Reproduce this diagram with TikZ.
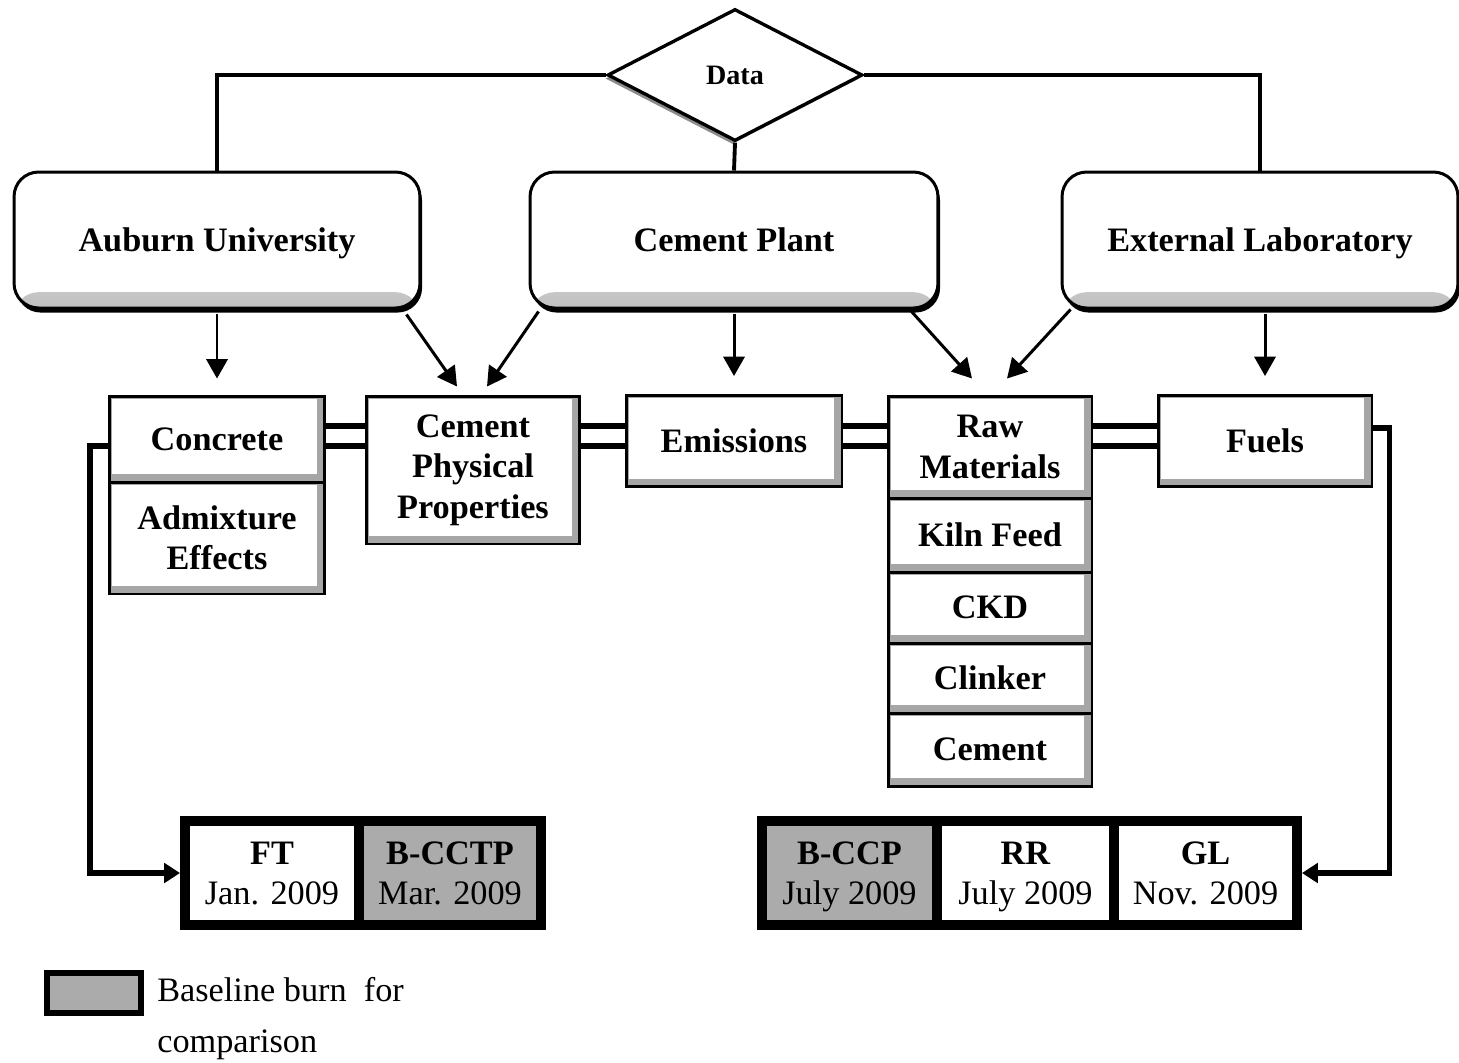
\documentclass[tikz,border=0pt]{standalone}
\usepackage{fontspec}
\setmainfont{Liberation Serif}
\usetikzlibrary{arrows.meta,positioning,shapes.geometric,calc,shadows}

\begin{document}
\begin{tikzpicture}[x=0.02cm, y=-0.02cm,
  srcbox/.style={rectangle, rounded corners=14pt, draw=black, line width=1.7pt,
               fill=white, minimum height=2.72cm, inner sep=0pt,
               font=\fontsize{19.5}{23}\selectfont\bfseries,
               text height=13pt, text depth=0pt,
               drop shadow={shadow xshift=1.2pt, shadow yshift=-2.6pt, fill=black, opacity=1},
               path picture={\shade[top color=white, bottom color=black!25]
                 ([yshift=9pt]path picture bounding box.south west) rectangle
                 (path picture bounding box.south east);}},
  catbox/.style={rectangle, draw=black, line width=1.7pt, fill=black!35,
               minimum width=4.3cm, inner sep=0pt, align=center,
               font=\fontsize{19.5}{23}\selectfont\bfseries,
               path picture={\fill[white]
                 ([shift={(1.6pt,-1.6pt)}]path picture bounding box.north west) rectangle
                 ([shift={(-4.5pt,4.5pt)}]path picture bounding box.south east);}},
  cellbox/.style={rectangle, draw=black, line width=0.2cm, fill=white,
               minimum height=2.08cm, inner sep=0pt, align=center,
               font=\fontsize{19.5}{23}\selectfont, text depth=0pt},
  basebox/.style={cellbox, fill=black!33},
  link/.style={line width=2.2pt},
  arr/.style={-{Triangle[length=11pt,width=12pt]}, line width=1.7pt},
  rail/.style={line width=3.2pt, double=white, double distance=8.5pt},
  back/.style={-{Triangle[length=9pt,width=11pt]}, line width=3.2pt}
]
\useasboundingbox (0,0) rectangle (1459,1062);

% Data source
\node[diamond, draw=black, line width=1.9pt, fill=white, minimum width=5.1cm,
      minimum height=2.64cm, inner sep=0pt, font=\fontsize{16}{18}\selectfont\bfseries,
      drop shadow={shadow xshift=-1.5pt, shadow yshift=-2pt, fill=black!45, opacity=1}]
      (data) at (735,75) {Data};

% Sources
\node[srcbox, minimum width=8.12cm] (aub) at (217,240) {Auburn University};
\node[srcbox, minimum width=8.16cm] (cpl) at (734,240) {Cement Plant};
\node[srcbox, minimum width=7.92cm] (ext) at (1260,240) {External Laboratory};

\draw[link] (data.west) -| (aub.north);
\draw[link] (data.east) -| (ext.north);
\draw[link] (data.south) -- (cpl.north);

% Categories
\node[catbox, minimum height=1.72cm] (conc) at (217,439) {Concrete};
\node[catbox, minimum height=2.24cm] (adm)  at (217,538) {Admixture\\Effects};
\node[catbox, minimum width=4.26cm, minimum height=2.96cm] (cpp) at (473,470) {Cement\\Physical\\Properties};
\node[catbox, minimum width=4.32cm, minimum height=1.82cm] (emi) at (734,441) {Emissions};
\node[catbox, minimum width=4.08cm, minimum height=2.04cm] (raw) at (990,447) {Raw\\Materials};
\node[catbox, minimum width=4.08cm, minimum height=1.48cm] (kiln) at (990,535) {Kiln Feed};
\node[catbox, minimum width=4.08cm, minimum height=1.42cm] (ckd)  at (990,607.5) {CKD};
\node[catbox, minimum width=4.08cm, minimum height=1.40cm] (clk)  at (990,678) {Clinker};
\node[catbox, minimum width=4.08cm, minimum height=1.46cm] (cmt)  at (990,749.5) {Cement};
\node[catbox, minimum width=4.28cm, minimum height=1.82cm] (fuel) at (1265,441) {Fuels};

% Rails between categories
\coordinate (railref) at (0,436);
\draw[rail] (conc.east |- railref) -- (cpp.west |- railref);
\draw[rail] (cpp.east |- railref) -- (emi.west |- railref);
\draw[rail] (emi.east |- railref) -- (raw.west |- railref);
\draw[rail] (raw.east |- railref) -- (fuel.west |- railref);

% Arrows from sources
\draw[arr] ($(aub.south)+(0,5)$) -- ($(conc.north)+(0,-16)$);
\draw[arr] ($(aub.south east)+(-15,5)$) -- ($(cpp.north)+(-16,-8)$);
\draw[arr] ($(cpl.south west)+(10,2)$) -- ($(cpp.north)+(14,-8)$);
\draw[arr] ($(cpl.south)+(0,5)$) -- ($(emi.north)+(0,-18)$);
\draw[arr] ($(cpl.south east)+(-28,2)$) -- ($(raw.north)+(-18,-16)$);
\draw[arr] ($(ext.south west)+(10,0)$) -- ($(raw.north)+(17,-16)$);
\draw[arr] ($(ext.south -| fuel.north)+(0,5)$) -- ($(fuel.north)+(0,-18)$);

% Burns
\node[cellbox, minimum width=3.48cm] (ft)    at (272,873)    {\textbf{FT}\\Jan. 2009};
\node[basebox, minimum width=3.64cm] (bcctp) at (450,873)    {\textbf{B-CCTP}\\Mar. 2009};
\node[basebox, minimum width=3.50cm] (bccp)  at (849.5,873)  {\textbf{B-CCP}\\July 2009};
\node[cellbox, minimum width=3.54cm] (rr)    at (1025.5,873) {\textbf{RR}\\July 2009};
\node[cellbox, minimum width=3.66cm] (gl)    at (1205.5,873) {\textbf{GL}\\Nov. 2009};

\draw[back] ($(conc.west)+(0,7)$) -- ++(-18,0) |- (ft.west);
\draw[back] ($(fuel.east)+(0,-13)$) -- ++(16,0) |- (gl.east);

% Legend
\node[basebox, line width=0.12cm, minimum width=1.88cm, minimum height=0.8cm] (key) at (94,993) {};
\node[anchor=north west, align=left, inner sep=0pt, font=\fontsize{19.5}{29}\selectfont]
      (keytext) at (157,977) {Baseline burn\ \ for\\comparison};
\end{tikzpicture}
\end{document}
